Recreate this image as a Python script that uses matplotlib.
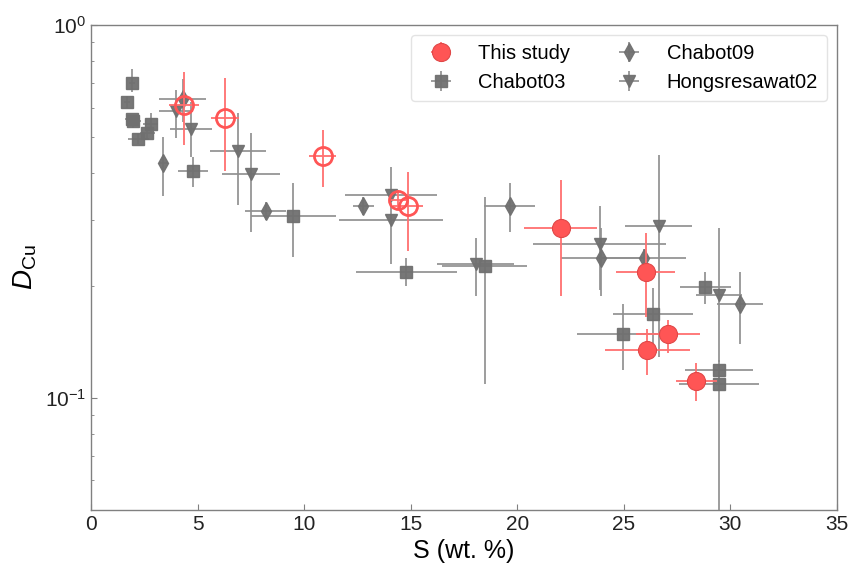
import matplotlib
matplotlib.use("Agg")
import matplotlib.pyplot as plt
import numpy as np

plt.rcParams['font.family'] = ['Liberation Sans', 'DejaVu Sans']
plt.rcParams['mathtext.fontset'] = 'custom'
plt.rcParams['mathtext.rm'] = 'Liberation Sans'
plt.rcParams['mathtext.it'] = 'Liberation Sans:italic'

# This study (filled)
ts_x = [22.03, 26.02, 27.07, 26.10, 28.40]
ts_y = [0.286, 0.218, 0.148, 0.134, 0.111]
ts_ylo = [0.188, 0.165, 0.132, 0.115, 0.098]
ts_yhi = [0.383, 0.276, 0.162, 0.153, 0.124]
ts_xerr = [1.7, 1.4, 1.5, 2.0, 0.95]

# This study (open)
to_x = [4.36, 6.28, 10.88, 14.39, 14.86]
to_y = [0.609, 0.562, 0.444, 0.339, 0.326]
to_ylo = [0.476, 0.405, 0.367, 0.320, 0.248]
to_yhi = [0.748, 0.720, 0.522, 0.360, 0.403]
to_xerr = [0.7, 0.65, 0.63, 0.4, 0.7]

# Chabot03
c3_x = [1.70, 1.91, 1.94, 1.98, 2.79, 2.63, 2.22, 4.80, 9.49, 14.80, 18.47, 24.96, 26.37, 28.83, 29.46, 29.46]
c3_y = [0.622, 0.700, 0.558, 0.552, 0.544, 0.512, 0.494, 0.405, 0.307, 0.217, 0.226, 0.1486, 0.168, 0.198, 0.1187, 0.1088]
c3_ylo = [0.60, 0.66, 0.54, 0.53, 0.51, 0.49, 0.48, 0.367, 0.238, 0.199, 0.109, 0.119, 0.128, 0.179, 0.112, 0.02]
c3_yhi = [0.645, 0.76, 0.575, 0.57, 0.58, 0.53, 0.51, 0.442, 0.376, 0.237, 0.345, 0.178, 0.197, 0.217, 0.126, 0.118]
c3_xerr = [0.15, 0.15, 0.35, 0.35, 0.35, 0.35, 0.5, 0.7, 2.0, 2.37, 2.0, 2.15, 1.88, 1.2, 1.6, 1.88]

# Chabot09
c9_x = [3.39, 4.30, 8.19, 12.77, 19.64, 23.94, 25.93, 30.43]
c9_y = [0.425, 0.633, 0.317, 0.326, 0.326, 0.2375, 0.2375, 0.178]
c9_ylo = [0.347, 0.55, 0.30, 0.31, 0.278, 0.188, 0.22, 0.139]
c9_yhi = [0.50, 0.716, 0.335, 0.345, 0.376, 0.286, 0.25, 0.217]
c9_xerr = [0.2, 1.1, 0.95, 0.5, 1.2, 1.9, 2.0, 1.08]

# Hongsresawat02
h2_x = [3.98, 4.69, 6.90, 7.50, 14.07, 14.07, 18.05, 23.86, 26.64, 29.46]
h2_y = [0.589, 0.527, 0.458, 0.399, 0.3507, 0.299, 0.229, 0.259, 0.2888, 0.189]
h2_ylo = [0.497, 0.442, 0.328, 0.278, 0.32, 0.229, 0.188, 0.195, 0.129, 0.125]
h2_yhi = [0.669, 0.62, 0.58, 0.513, 0.415, 0.32, 0.268, 0.326, 0.447, 0.286]
h2_xerr = [0.8, 1.0, 1.3, 1.36, 2.15, 2.45, 1.8, 3.1, 1.57, 1.08]

fig = plt.figure(figsize=(8.51, 5.67), dpi=100)
ax = fig.add_axes([0.107, 0.1005, 0.8765, 0.8555])

gray = '#707070'
egray = '#8f8f8f'
red = '#ff5555'
ered = '#ff7070'


def yerr(y, lo, hi):
    y = np.array(y); lo = np.array(lo); hi = np.array(hi)
    return [y - lo, hi - y]

kw_g = dict(linestyle='none', ecolor=egray, elinewidth=1.3, capsize=0,
            color=gray, markeredgecolor=gray, alpha=0.95)

ax.errorbar(c9_x, c9_y, yerr=yerr(c9_y, c9_ylo, c9_yhi), xerr=c9_xerr,
            marker='d', markersize=9, label='Chabot09', zorder=3, **kw_g)
ax.errorbar(c3_x, c3_y, yerr=yerr(c3_y, c3_ylo, c3_yhi), xerr=c3_xerr,
            marker='s', markersize=8.5, label='Chabot03', zorder=3, **kw_g)
ax.errorbar(h2_x, h2_y, yerr=yerr(h2_y, h2_ylo, h2_yhi), xerr=h2_xerr,
            marker='v', markersize=9, label='Hongsresawat02', zorder=3, **kw_g)

ax.errorbar(to_x, to_y, yerr=yerr(to_y, to_ylo, to_yhi), xerr=to_xerr,
            marker='o', markersize=13, linestyle='none', ecolor=ered,
            elinewidth=1.3, markerfacecolor='none', markeredgecolor=red,
            markeredgewidth=2, zorder=4)
ax.errorbar(ts_x, ts_y, yerr=yerr(ts_y, ts_ylo, ts_yhi), xerr=ts_xerr,
            marker='o', markersize=13, linestyle='none', ecolor=ered,
            elinewidth=1.3, color=red, markeredgecolor='#e04848',
            markeredgewidth=0.8, label='This study', zorder=5)

ax.set_yscale('log')
ax.set_xlim(0, 35)
ax.set_ylim(0.05, 1)
ax.set_xticks([0, 5, 10, 15, 20, 25, 30, 35])
ax.tick_params(which='both', direction='in', labelsize=15, colors='#222222')
ax.tick_params(which='major', length=4, color='#808080')
ax.tick_params(which='minor', length=2.5, color='#808080')
for s in ax.spines.values():
    s.set_color('#808080')
    s.set_linewidth(1.0)

ax.set_xlabel('S (wt. %)', fontsize=18, labelpad=4)
ax.set_ylabel(r'$D_{\mathrm{Cu}}$', fontsize=20, labelpad=4)

handles, labels = ax.get_legend_handles_labels()
order = [labels.index(l) for l in ['This study', 'Chabot03', 'Chabot09', 'Hongsresawat02']]
leg = ax.legend([handles[i] for i in order], [labels[i] for i in order],
                ncol=2, loc='upper right', fontsize=14.5, frameon=True,
                columnspacing=1.95, handletextpad=0.85, borderpad=0.45,
                labelspacing=0.5)
leg.get_frame().set_edgecolor('#dddddd')

fig.savefig('out.png', dpi=100)
